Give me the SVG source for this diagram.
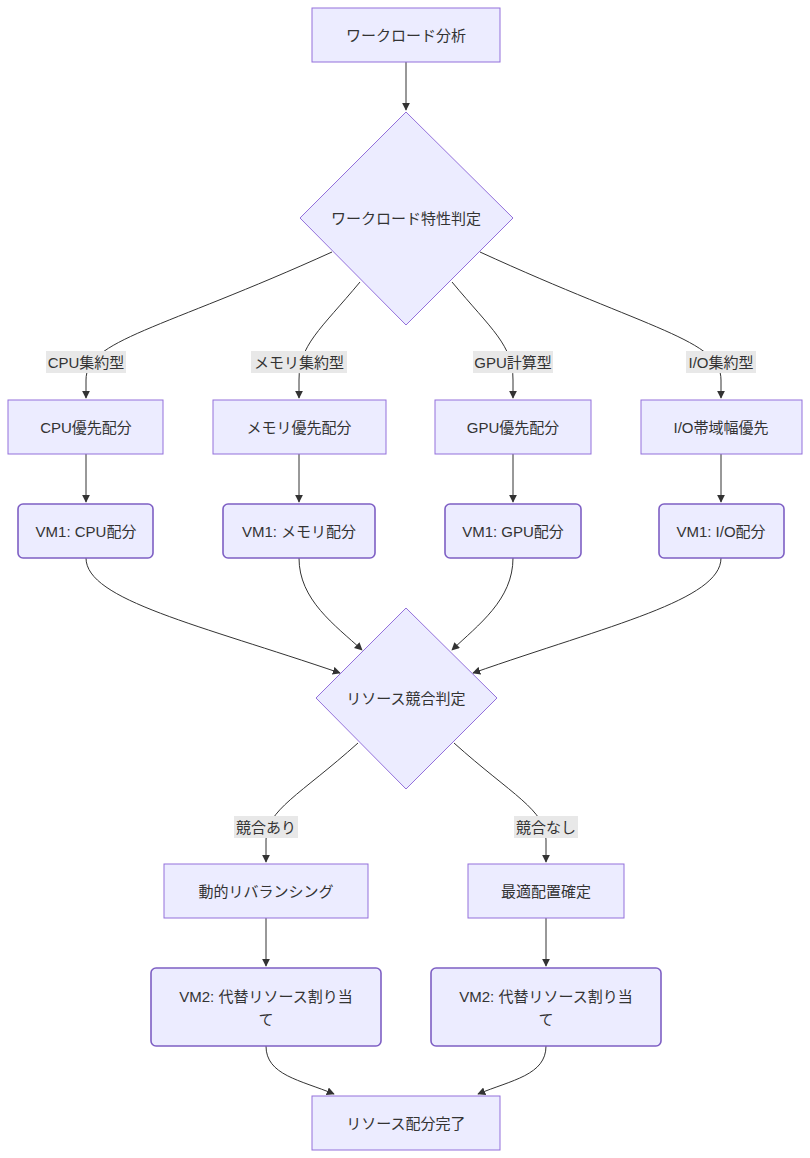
<svg xmlns="http://www.w3.org/2000/svg" width="810" height="1158" viewBox="0 0 810 1158">
<style>
.n{fill:#ECECFF;stroke:#9370DB;stroke-width:1}
.r{fill:#ECECFF;stroke:#7E5FC4;stroke-width:1.6}
.t{font-family:"Liberation Sans","Noto Sans CJK JP",sans-serif;font-size:15px;fill:#333;text-anchor:middle;dominant-baseline:central}
.e{fill:none;stroke:#333;stroke-width:1}
.lb{fill:#e8e8e8}
</style>
<defs><marker id="a" viewBox="0 0 10 10" refX="9" refY="5" markerWidth="8" markerHeight="8" orient="auto"><path d="M0,0L10,5L0,10z" fill="#333"/></marker></defs>
<g id="edges">
<path class="e" marker-end="url(#a)" d="M406,62L406,110"/>
<path class="e" marker-end="url(#a)" d="M332,252C160,330 86,340 86,380L86,398"/>
<path class="e" marker-end="url(#a)" d="M360,282C320,330 299,345 299,380L299,398"/>
<path class="e" marker-end="url(#a)" d="M452,282C492,330 513,345 513,380L513,398"/>
<path class="e" marker-end="url(#a)" d="M480,252C650,330 721,340 721,380L721,398"/>
<path class="e" marker-end="url(#a)" d="M86,454L86,502"/>
<path class="e" marker-end="url(#a)" d="M299,454L299,502"/>
<path class="e" marker-end="url(#a)" d="M513,454L513,502"/>
<path class="e" marker-end="url(#a)" d="M721,454L721,502"/>
<path class="e" marker-end="url(#a)" d="M86,558C86,600 200,625 340,673"/>
<path class="e" marker-end="url(#a)" d="M299,558C299,600 335,625 362,650"/>
<path class="e" marker-end="url(#a)" d="M513,558C513,600 478,625 452,650"/>
<path class="e" marker-end="url(#a)" d="M721,558C721,600 610,625 473,673"/>
<path class="e" marker-end="url(#a)" d="M358,743C300,795 266,810 266,840L266,862"/>
<path class="e" marker-end="url(#a)" d="M454,743C512,795 546,810 546,840L546,862"/>
<path class="e" marker-end="url(#a)" d="M266,918L266,966"/>
<path class="e" marker-end="url(#a)" d="M546,918L546,966"/>
<path class="e" marker-end="url(#a)" d="M266,1046C266,1075 300,1080 334,1094"/>
<path class="e" marker-end="url(#a)" d="M546,1046C546,1075 512,1080 478,1094"/>
</g>
<g id="labels">
<rect class="lb" x="46" y="351" width="80" height="22"/><text class="t" x="86" y="362">CPU集約型</text>
<rect class="lb" x="251" y="351" width="96" height="22"/><text class="t" x="299" y="362">メモリ集約型</text>
<rect class="lb" x="473" y="351" width="80" height="22"/><text class="t" x="513" y="362">GPU計算型</text>
<rect class="lb" x="686" y="351" width="70" height="22"/><text class="t" x="721" y="362">I/O集約型</text>
<rect class="lb" x="234" y="816" width="64" height="22"/><text class="t" x="266" y="827">競合あり</text>
<rect class="lb" x="514" y="816" width="64" height="22"/><text class="t" x="546" y="827">競合なし</text>
</g>
<g id="A"><rect class="n" x="312" y="8" width="188" height="54"/><text class="t" x="406" y="35">ワークロード分析</text></g>
<g id="B"><path class="n" d="M406,112L513,218L406,325L300,218Z"/><text class="t" x="406" y="218">ワークロード特性判定</text></g>
<g id="C1"><rect class="n" x="8" y="400" width="155" height="54"/><text class="t" x="86" y="427">CPU優先配分</text></g>
<g id="C2"><rect class="n" x="213" y="400" width="173" height="54"/><text class="t" x="299" y="427">メモリ優先配分</text></g>
<g id="C3"><rect class="n" x="435" y="400" width="156" height="54"/><text class="t" x="513" y="427">GPU優先配分</text></g>
<g id="C4"><rect class="n" x="641" y="400" width="161" height="54"/><text class="t" x="721" y="427">I/O帯域幅優先</text></g>
<g id="D1"><rect class="r" x="18" y="504" width="135" height="54" rx="5"/><text class="t" x="86" y="531">VM1: CPU配分</text></g>
<g id="D2"><rect class="r" x="223" y="504" width="152" height="54" rx="5"/><text class="t" x="299" y="531">VM1: メモリ配分</text></g>
<g id="D3"><rect class="r" x="445" y="504" width="136" height="54" rx="5"/><text class="t" x="513" y="531">VM1: GPU配分</text></g>
<g id="D4"><rect class="r" x="659" y="504" width="125" height="54" rx="5"/><text class="t" x="721" y="531">VM1: I/O配分</text></g>
<g id="E"><path class="n" d="M406,608L497,698L406,789L316,698Z"/><text class="t" x="406" y="698">リソース競合判定</text></g>
<g id="F1"><rect class="n" x="164" y="864" width="204" height="54"/><text class="t" x="266" y="891">動的リバランシング</text></g>
<g id="F2"><rect class="n" x="468" y="864" width="156" height="54"/><text class="t" x="546" y="891">最適配置確定</text></g>
<g id="G1"><rect class="r" x="151" y="968" width="230" height="78" rx="5"/><text class="t" x="266" y="996">VM2: 代替リソース割り当</text><text class="t" x="266" y="1019">て</text></g>
<g id="G2"><rect class="r" x="431" y="968" width="230" height="78" rx="5"/><text class="t" x="546" y="996">VM2: 代替リソース割り当</text><text class="t" x="546" y="1019">て</text></g>
<g id="H"><rect class="n" x="312" y="1096" width="188" height="54"/><text class="t" x="406" y="1123">リソース配分完了</text></g>
</svg>
